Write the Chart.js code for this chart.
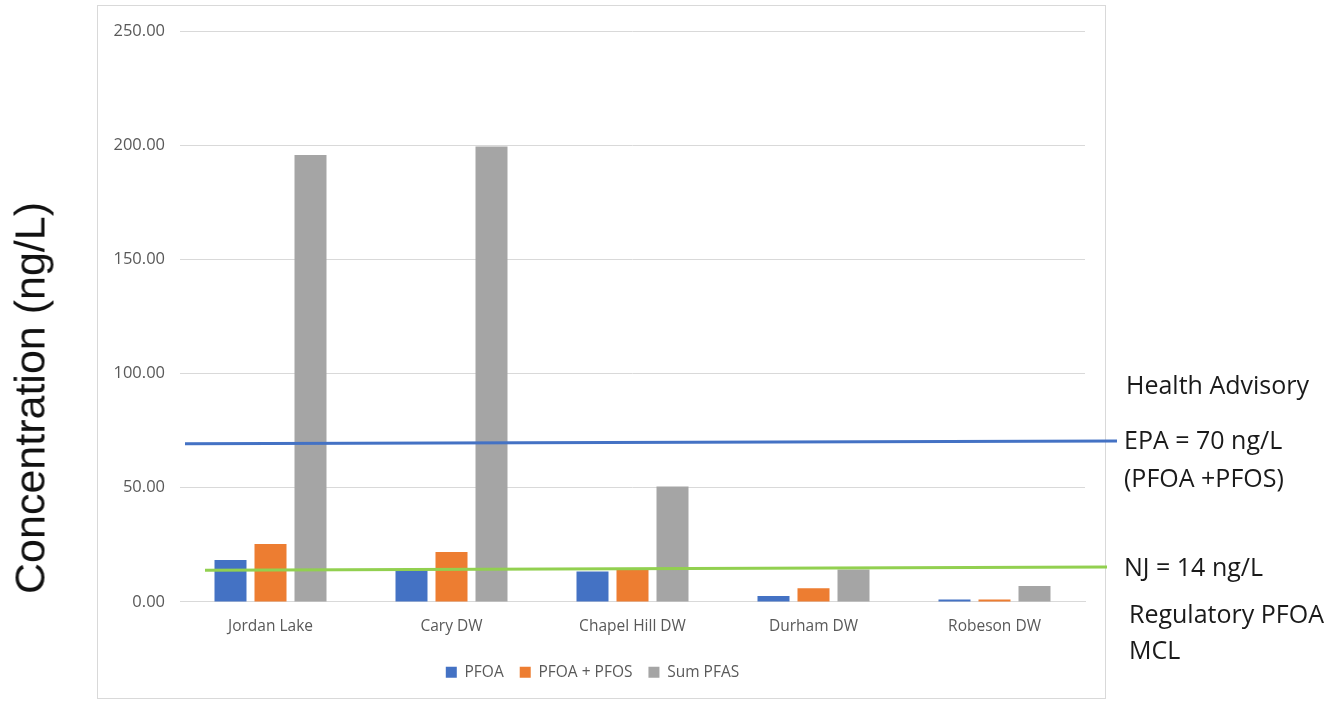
<!DOCTYPE html>
<html>
<head>
<meta charset="utf-8">
<script src="https://cdn.jsdelivr.net/npm/chart.js@4.4.0/dist/chart.umd.min.js"></script>
<style>
  html, body { margin: 0; padding: 0; background: #fff; }
  #wrap { position: relative; width: 1332px; height: 703px; overflow: hidden; }
  #chartBox { position: absolute; left: 97px; top: 5px; width: 1009px; height: 694px; border: 1px solid #d9d9d9; box-sizing: border-box; }
  canvas { position: absolute; left: 0; top: 0; }
  .note { position: absolute; font-family: "Open Sans", Lato, sans-serif; font-size: 25px; color: #1a1a1a; white-space: nowrap; line-height: 1; }
  #yTitle { position: absolute; left: 30px; top: 398px; transform: translate(-50%, -50%) rotate(-90deg);
            font-family: "Liberation Sans", Arial, sans-serif; font-size: 43px; color: #111; white-space: nowrap; }
</style>
</head>
<body>
<div id="wrap">
  <div id="chartBox"></div>
  <canvas id="pfasChart" width="1332" height="703"></canvas>
  <div id="yTitle">Concentration (ng/L)</div>
  <div class="note" style="left:1126px; top:372px;">Health Advisory</div>
  <div class="note" style="left:1124px; top:427px;">EPA = 70 ng/L</div>
  <div class="note" style="left:1124px; top:465px;">(PFOA +PFOS)</div>
  <div class="note" style="left:1124px; top:554px;">NJ = 14 ng/L</div>
  <div class="note" style="left:1129px; top:601px;">Regulatory PFOA</div>
  <div class="note" style="left:1129px; top:637px;">MCL</div>
</div>
<script>
// Sites sampled
const sites = ['Jordan Lake', 'Cary DW', 'Chapel Hill DW', 'Durham DW', 'Robeson DW'];

// Concentrations in ng/L
const pfoa = [18.4, 13.9, 13.3, 2.6, 1.0];
const pfoaPfos = [25.3, 21.9, 14.3, 6.0, 1.0];
const sumPfas = [195.7, 199.4, 50.5, 14.2, 7.0];

// Y axis ticks
const yTicks = [0, 50, 100, 150, 200, 250];

// Reference lines (value at left end, value at right end, as drawn)
const epaAdvisory = [69.3, 70.5];
const njMcl = [13.9, 15.3];

// draws the two hand-placed guideline lines across the plot
const guideLines = {
    id: 'guideLines',
    afterDatasetsDraw(chart) {
        const { ctx, chartArea } = chart;
        const y = chart.scales.y;
        const lines = [
            { vals: epaAdvisory, color: '#4472C4', x0: chartArea.left + 5, x1: chartArea.right + 32 },
            { vals: njMcl, color: '#92D050', x0: chartArea.left + 25, x1: chartArea.right + 22 }
        ];
        ctx.save();
        lines.forEach(l => {
            ctx.beginPath();
            ctx.strokeStyle = l.color;
            ctx.lineWidth = 3;
            ctx.moveTo(l.x0, y.getPixelForValue(l.vals[0]));
            ctx.lineTo(l.x1, y.getPixelForValue(l.vals[1]));
            ctx.stroke();
        });
        ctx.restore();
    }
};

const ctx = document.getElementById('pfasChart').getContext('2d');
new Chart(ctx, {
    type: 'bar',
    data: {
        labels: sites,
        datasets: [
            { label: 'PFOA', data: pfoa, backgroundColor: '#4472C4' },
            { label: 'PFOA + PFOS', data: pfoaPfos, backgroundColor: '#ED7D31' },
            { label: 'Sum PFAS', data: sumPfas, backgroundColor: '#A5A5A5' }
        ]
    },
    options: {
        responsive: false,
        animation: false,
        categoryPercentage: 0.663,
        barPercentage: 0.8,
        layout: { padding: { left: 100, right: 247, top: 31, bottom: 13 } },
        plugins: {
            legend: {
                position: 'bottom',
                labels: {
                    boxWidth: 11, boxHeight: 11, padding: 16,
                    color: '#595959',
                    font: { family: 'Open Sans', size: 15.5 }
                }
            },
            tooltip: { enabled: false }
        },
        scales: {
            x: {
                afterFit(scale) { scale.height += 6; },
                grid: { display: false },
                border: { color: '#d9d9d9' },
                ticks: { color: '#595959', font: { family: 'Open Sans', size: 15.5 }, padding: 7 }
            },
            y: {
                min: 0, max: 250,
                afterFit(scale) { scale.width = 80; },
                afterBuildTicks(scale) { scale.ticks = yTicks.map(v => ({ value: v })); },
                grid: { color: '#d9d9d9', drawTicks: false },
                border: { display: false },
                ticks: {
                    color: '#595959', padding: 15,
                    font: { family: 'Open Sans', size: 16.5 },
                    callback: v => v.toFixed(2)
                }
            }
        }
    },
    plugins: [guideLines]
});
</script>
</body>
</html>
